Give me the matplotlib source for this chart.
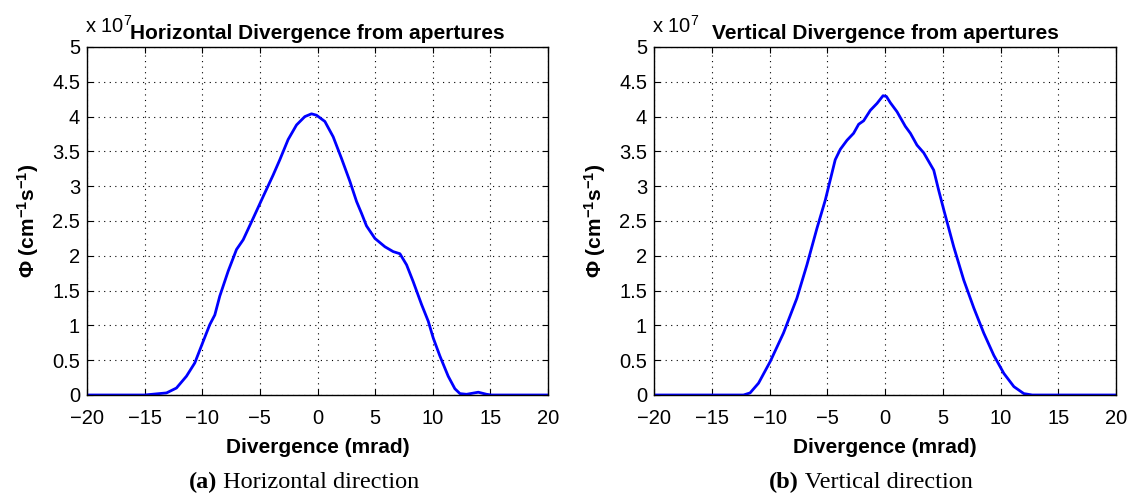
import matplotlib
matplotlib.use("Agg")
import matplotlib.pyplot as plt
import numpy as np

plt.rcParams['font.family'] = ['Liberation Sans', 'DejaVu Sans']
plt.rcParams['mathtext.fontset'] = 'custom'
plt.rcParams['mathtext.rm'] = 'Liberation Sans'
plt.rcParams['mathtext.bf'] = 'Liberation Sans:bold'
plt.rcParams['mathtext.it'] = 'Liberation Sans:italic'

# Horizontal divergence (mrad) and flux (x 1e7)
h_x = [-20, -15, -13.1, -12.24, -11.37, -10.65, -9.92, -9.35, -8.91, -8.48, -7.75, -7.03,
       -6.45, -5.58, -4.72, -3.85, -3.27, -2.55, -1.82, -1.10, -0.52, -0.09, 0.64, 1.36,
       2.08, 2.81, 3.39, 3.82, 4.25, 4.98, 5.85, 6.57, 7.15, 7.73, 8.30, 9.03, 9.61,
       10.04, 10.62, 11.34, 11.92, 12.36, 12.93, 13.95, 14.67, 15.1, 20]
h_y = [0, 0, 0.03, 0.10, 0.27, 0.46, 0.77, 1.01, 1.15, 1.42, 1.78, 2.09,
       2.23, 2.54, 2.85, 3.16, 3.38, 3.67, 3.88, 4.00, 4.04, 4.02, 3.93, 3.71,
       3.40, 3.07, 2.78, 2.61, 2.43, 2.25, 2.13, 2.06, 2.03, 1.87, 1.63, 1.30, 1.06,
       0.82, 0.56, 0.27, 0.09, 0.02, 0.01, 0.04, 0.01, 0, 0]

# Vertical divergence (mrad) and flux (x 1e7)
v_x = [-20, -12.25, -11.68, -10.95, -9.94, -8.79, -7.63, -6.76, -5.90, -5.17, -4.74, -4.31,
       -3.87, -3.29, -2.72, -2.28, -1.85, -1.27, -0.69, -0.17, 0.12, 0.46, 1.04, 1.76,
       2.20, 2.77, 3.35, 4.22, 4.65, 5.09, 5.95, 6.82, 7.69, 8.55, 9.42, 10.29, 11.16,
       12.02, 12.75, 20]
v_y = [0, 0, 0.03, 0.17, 0.48, 0.89, 1.39, 1.87, 2.39, 2.80, 3.09, 3.38,
       3.53, 3.66, 3.76, 3.89, 3.94, 4.09, 4.19, 4.30, 4.29, 4.20, 4.07, 3.86,
       3.76, 3.59, 3.48, 3.23, 2.94, 2.66, 2.13, 1.65, 1.25, 0.89, 0.57, 0.31, 0.12,
       0.02, 0, 0]

titles = ["Horizontal Divergence from apertures", "Vertical Divergence from apertures"]
captions = [("(a)", " Horizontal direction"), ("(b)", " Vertical direction")]
x_ticks = [-20, -15, -10, -5, 0, 5, 10, 15, 20]
y_ticks = [0, 0.5, 1, 1.5, 2, 2.5, 3, 3.5, 4, 4.5, 5]
y_tick_labels = ["0", "0.5", "1", "1.5", "2", "2.5", "3", "3.5", "4", "4.5", "5"]

W, H = 1130, 496
fig = plt.figure(figsize=(W / 100, H / 100), dpi=100)

axes_px = [(87, 548), (654, 1116)]
caption_cx = [304, 871]
top_px, bot_px = 47, 395
renderer = fig.canvas.get_renderer()

for i, (xs, ys) in enumerate([(h_x, h_y), (v_x, v_y)]):
    l, r = axes_px[i]
    ax = fig.add_axes([l / W, 1 - bot_px / H, (r - l) / W, (bot_px - top_px) / H])
    ax.plot(xs, ys, color=(0, 0, 1), lw=2.0)
    ax.set_xlim(-20, 20)
    ax.set_ylim(0, 5)
    ax.set_xticks(x_ticks)
    ax.set_yticks(y_ticks)
    ax.set_yticklabels(y_tick_labels)
    ax.tick_params(direction='in', top=True, right=True, labelsize=14.5, length=4,
                   width=0.8)
    ax.tick_params(axis='x', pad=10)
    ax.tick_params(axis='y', pad=5)
    ax.grid(True, color='black', linestyle=(0, (1, 4)), linewidth=0.8)
    for s in ax.spines.values():
        s.set_linewidth(1.0)
    ax.set_xlabel("Divergence (mrad)", fontsize=15, fontweight='bold', labelpad=7)
    ax.set_ylabel(r"$\mathbf{\Phi\ (cm^{-1}s^{-1})}$", fontsize=15, labelpad=8)
    ax.set_title(titles[i], fontsize=15, fontweight='bold', pad=6)
    ax.text(-0.004, 1 + 14 / (bot_px - top_px), r"x 10$^{7}$", transform=ax.transAxes,
            fontsize=14.5, ha='left', va='baseline')

    # caption: bold "(a)" followed by regular text, centred as a whole
    yb = 1 - 488 / H
    tb = fig.text(0, yb, captions[i][0], fontsize=17.5, family='Liberation Serif',
                  fontweight='bold', ha='left', va='baseline')
    tr = fig.text(0, yb, captions[i][1], fontsize=17.5, family='Liberation Serif',
                  ha='left', va='baseline')
    wb = tb.get_window_extent(renderer).width
    wr = tr.get_window_extent(renderer).width
    x0 = caption_cx[i] - (wb + wr) / 2
    tb.set_x(x0 / W)
    tr.set_x((x0 + wb) / W)

fig.savefig("out.png", dpi=100)
